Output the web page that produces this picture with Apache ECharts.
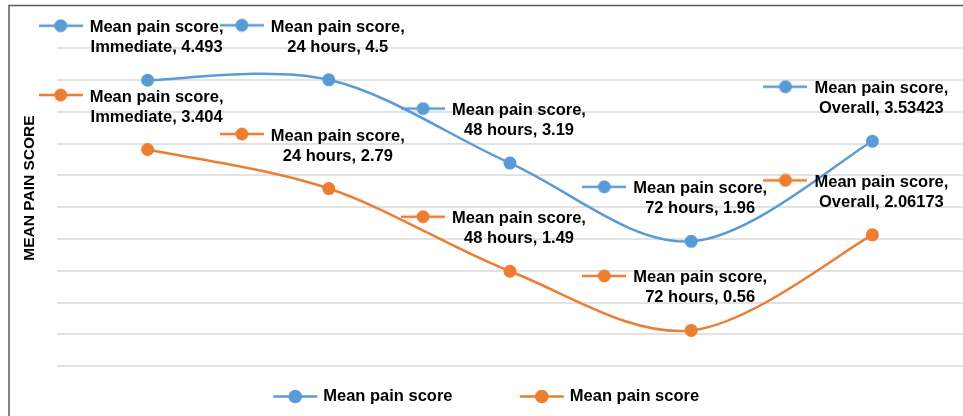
<!DOCTYPE html>
<html>
<head>
<meta charset="utf-8">
<script src="https://cdn.jsdelivr.net/npm/echarts@6/dist/echarts.min.js"></script>
<style>
  html, body { margin: 0; padding: 0; background: #ffffff; }
  #chart { width: 963px; height: 416px; }
</style>
</head>
<body>
<div id="chart"></div>
<script>
// Time points and mean pain scores for the two groups
const categories = ['Immediate', '24 hours', '48 hours', '72 hours', 'Overall'];
const seriesLabel = 'Mean pain score';
const groupA = [4.493, 4.5, 3.19, 1.96, 3.53423];
const groupB = [3.404, 2.79, 1.49, 0.56, 2.06173];
const yAxisTitle = 'MEAN PAIN SCORE';

const colors = ['#5b9bd5', '#ed7d31'];
const FONT = '"Liberation Sans", Arial, sans-serif';
const LINE_W = 2.5;

// Small legend-key glyph (line with a dot) used inside data labels;
// drawn slightly above the middle of its box so it sits level with the text
function makeKey(color) {
  const c = document.createElement('canvas');
  c.width = 44; c.height = 18;
  const g = c.getContext('2d');
  const cy = 7;
  g.strokeStyle = color; g.lineWidth = LINE_W;
  g.beginPath(); g.moveTo(0, cy); g.lineTo(44, cy); g.stroke();
  g.fillStyle = color;
  g.beginPath(); g.arc(22, cy, 6.5, 0, Math.PI * 2); g.fill();
  return c;
}

function labelFor(idx) {
  const textStyle = { fontFamily: FONT, fontWeight: 'bold', fontSize: 16.5, color: '#000', lineHeight: 20 };
  return {
    show: true,
    position: 'top',
    distance: 16,
    offset: [9, 0],
    align: 'center',
    ...textStyle,
    formatter: p => '{key|}{gap|}{t|' + seriesLabel + ',}{pad|}\n{t|' + p.name + ', ' + p.value + '}',
    rich: {
      key: { width: 44, height: 18, backgroundColor: { image: makeKey(colors[idx]) } },
      gap: { width: 7 },
      pad: { width: 51 },
      t: textStyle
    }
  };
}

// Markers and data labels for one group
function pointSeries(name, data, idx) {
  return {
    name: name,
    type: 'line',
    data: data,
    symbol: 'circle',
    symbolSize: 13,
    z: 3,
    lineStyle: { width: LINE_W, color: colors[idx], opacity: 0 },
    itemStyle: { color: colors[idx] },
    label: labelFor(idx),
    emphasis: { disabled: true }
  };
}

// Smoothed connecting curve (Catmull-Rom style cubic segments through the data points)
function curveSeries(name, data, idx) {
  return {
    name: name,
    type: 'custom',
    z: 2,
    data: data.map((v, i) => [i, v]),
    encode: { x: 0, y: 1 },
    silent: true,
    renderItem: (params, api) => {
      if (params.dataIndex !== 0) return null;
      const pts = data.map((v, i) => api.coord([i, v]));
      const n = pts.length;
      const children = [];
      for (let i = 0; i < n - 1; i++) {
        const p0 = pts[Math.max(i - 1, 0)], p1 = pts[i], p2 = pts[i + 1], p3 = pts[Math.min(i + 2, n - 1)];
        children.push({
          type: 'bezierCurve',
          shape: {
            x1: p1[0], y1: p1[1], x2: p2[0], y2: p2[1],
            cpx1: p1[0] + (p2[0] - p0[0]) / 6, cpy1: p1[1] + (p2[1] - p0[1]) / 6,
            cpx2: p2[0] - (p3[0] - p1[0]) / 6, cpy2: p2[1] - (p3[1] - p1[1]) / 6
          },
          style: { stroke: colors[idx], lineWidth: LINE_W, fill: null, lineCap: 'round' }
        });
      }
      return { type: 'group', children: children };
    }
  };
}

const chart = echarts.init(document.getElementById('chart'), null, { renderer: 'canvas' });
chart.setOption({
  animation: false,
  backgroundColor: '#ffffff',
  grid: { left: 57, top: 48, width: 910, height: 318, containLabel: false },
  xAxis: {
    type: 'category',
    data: categories,
    boundaryGap: true,
    axisLine: { show: false },
    axisTick: { show: false },
    axisLabel: { show: false }
  },
  yAxis: {
    type: 'value',
    min: 0, max: 5, interval: 0.5,
    axisLine: { show: false },
    axisTick: { show: false },
    axisLabel: { show: false },
    splitLine: { lineStyle: { color: '#d9d9d9', width: 1.5 } }
  },
  legend: {
    top: 388,
    left: 272,
    padding: 0,
    itemWidth: 44,
    itemHeight: 17,
    itemGap: 66,
    data: [
      { name: 'groupA', lineStyle: { color: colors[0], width: LINE_W, opacity: 1 } },
      { name: 'groupB', lineStyle: { color: colors[1], width: LINE_W, opacity: 1 } }
    ],
    formatter: () => seriesLabel,
    textStyle: { fontFamily: FONT, fontWeight: 'bold', fontSize: 16.5, color: '#000', padding: [0, 0, 0, 1] }
  },
  graphic: [
    {
      type: 'polyline',
      shape: { points: [[9, 416], [9, 5.5], [963, 5.5]] },
      style: { stroke: '#595959', lineWidth: 1.5, fill: null },
      silent: true
    },
    {
      type: 'text',
      x: 30, y: 188,
      rotation: Math.PI / 2,
      style: {
        text: yAxisTitle,
        font: 'bold 15.5px ' + FONT,
        fill: '#000',
        align: 'center',
        verticalAlign: 'middle'
      },
      silent: true
    }
  ],
  series: [
    pointSeries('groupA', groupA, 0),
    pointSeries('groupB', groupB, 1),
    curveSeries('groupA', groupA, 0),
    curveSeries('groupB', groupB, 1)
  ]
});
</script>
</body>
</html>
